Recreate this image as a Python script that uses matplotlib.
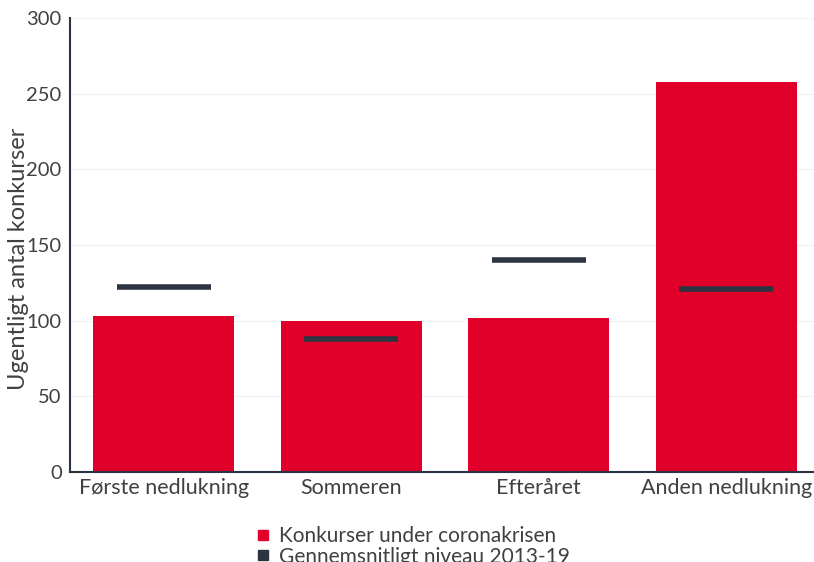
import matplotlib.pyplot as plt
from matplotlib.lines import Line2D

# data
categories = ['Første nedlukning', 'Sommeren', 'Efteråret', 'Anden nedlukning']
konkurser = [103, 100, 102, 258]
gennemsnit = [122, 88, 140, 121]

red = '#E10029'
navy = '#2B3440'
txt = '#404040'

plt.rcParams['font.family'] = ['Lato', 'DejaVu Sans']

fig = plt.figure(figsize=(8.14, 5.62), dpi=100)
ax = fig.add_axes([70/814, 1-472/562, 750/814, 454/562])

x = range(len(categories))
ax.bar(x, konkurser, width=0.75, color=red, zorder=2)
ax.hlines(gennemsnit, [i - 0.25 for i in x], [i + 0.25 for i in x],
          color=navy, linewidth=4, zorder=3)

ax.set_xlim(-0.5, 3.5)
ax.set_ylim(0, 300)
ax.set_yticks(range(0, 301, 50))
ax.set_xticks(list(x))
ax.set_xticklabels(categories, fontsize=15.5, color=txt)
ax.tick_params(axis='y', labelsize=14.5, labelcolor=txt, length=0, pad=6)
ax.tick_params(axis='x', length=0, pad=4)
ax.grid(axis='y', color='#f2f2f2', linewidth=1, zorder=0)
ax.set_ylabel('Ugentligt antal konkurser', fontsize=17, color=txt)
ax.yaxis.set_label_coords(-0.055, 0.47)

for s in ['top', 'right']:
    ax.spines[s].set_visible(False)
for s in ['left', 'bottom']:
    ax.spines[s].set_color(navy)
    ax.spines[s].set_linewidth(1.5)

handles = [
    Line2D([], [], linestyle='none', marker='s', markersize=7, color=red),
    Line2D([], [], linestyle='none', marker='s', markersize=7, color=navy),
]
fig.legend(handles, ['Konkurser under coronakrisen', 'Gennemsnitligt niveau 2013-19'],
           loc='upper left', bbox_to_anchor=(244/814, 1-518/562), frameon=False,
           fontsize=15, labelcolor=txt, handletextpad=0.3, labelspacing=0.02,
           borderaxespad=0, handlelength=1)

fig.savefig('out.png', dpi=100)
